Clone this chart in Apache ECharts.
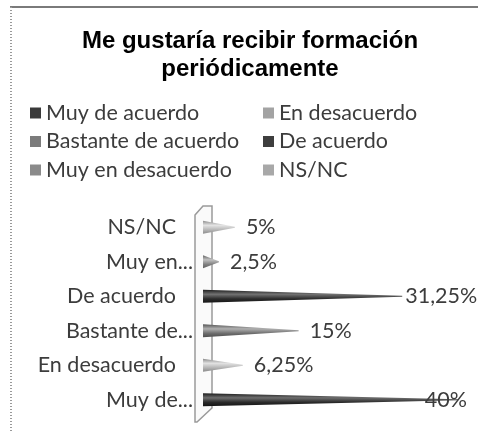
<!DOCTYPE html>
<html>
<head>
<meta charset="utf-8">
<script src="https://cdn.jsdelivr.net/npm/echarts@6/dist/echarts.min.js"></script>
<style>
html,body{margin:0;padding:0;background:#fff;}
#main{width:478px;height:432px;}
</style>
</head>
<body>
<div id="main"></div>
<script>
var categories = ['Muy de acuerdo', 'En desacuerdo', 'Bastante de acuerdo', 'De acuerdo', 'Muy en desacuerdo', 'NS/NC'];
var values = [40, 6.25, 15, 31.25, 2.5, 5];
var axisLabels = ['Muy de...', 'En desacuerdo', 'Bastante de...', 'De acuerdo', 'Muy en...', 'NS/NC'];
var legendColors = ['#3a3a3a', '#a3a3a3', '#7b7b7b', '#3e3e3e', '#8a8a8a', '#a8a8a8'];
var coneStops = [
    ['#1c1c1c', '#6e6e6e', '#2a2a2a', '#141414'],
    ['#8c8c8c', '#e2e2e2', '#b4b4b4', '#8a8a8a'],
    ['#555555', '#b0b0b0', '#6e6e6e', '#4e4e4e'],
    ['#1e1e1e', '#727272', '#2c2c2c', '#161616'],
    ['#666666', '#c0c0c0', '#808080', '#606060'],
    ['#8e8e8e', '#e4e4e4', '#b6b6b6', '#8c8c8c']
];

var fmt = function (v) {
    return String(v).replace('.', ',') + '%';
};

var maxVal = Math.max.apply(null, values);
var txtColor = '#3c3c3c';
var fontSize = 21.5;
var myChart = echarts.init(document.getElementById('main'));

var series = [];
categories.forEach(function (name, i) {
    var s = coneStops[i];
    var data = categories.map(function (c, j) {
        if (j !== i) return '-';
        var item = {value: values[i]};
        if (values[i] === maxVal) {
            // etiqueta encima de la punta, como en el original
            item.label = {position: 'insideRight', offset: [20, 0]};
        } else if (values[i] > maxVal * 0.75) {
            item.label = {distance: 3};
        }
        return item;
    });
    series.push({
        name: name,
        type: 'pictorialBar',
        symbol: 'path://M0,0 L100,47 L100,53 L0,100 Z',
        symbolSize: ['100%', 13],
        symbolPosition: 'start',
        barGap: '-100%',
        z: 5,
        itemStyle: {
            color: new echarts.graphic.LinearGradient(0, 0, 0, 1, [
                {offset: 0, color: s[0]},
                {offset: 0.35, color: s[1]},
                {offset: 0.7, color: s[2]},
                {offset: 1, color: s[3]}
            ])
        },
        label: {
            show: true,
            position: 'right',
            distance: 11,
            fontFamily: 'Lato',
            fontSize: fontSize,
            color: txtColor,
            formatter: function (p) { return fmt(p.value); }
        },
        data: data
    });
});

var legendItem = function (i) {
    return {name: categories[i], itemStyle: {color: legendColors[i]}};
};
var legendBase = {
    orient: 'vertical',
    top: 97,
    itemGap: 6.5,
    itemWidth: 11,
    itemHeight: 11,
    icon: 'rect',
    selectedMode: false,
    textStyle: {fontFamily: 'Lato', fontSize: fontSize, lineHeight: 22, color: txtColor}
};

var options = {
    backgroundColor: '#ffffff',
    animation: false,
    title: {
        text: 'Me gustaría recibir formación\nperiódicamente',
        left: 245,
        top: 22,
        textAlign: 'center',
        textStyle: {
            fontFamily: 'Liberation Sans',
            fontWeight: 'bold',
            fontSize: 24,
            lineHeight: 28,
            color: '#000'
        }
    },
    legend: [
        Object.assign({}, legendBase, {left: 25, data: [legendItem(0), legendItem(2), legendItem(4)]}),
        Object.assign({}, legendBase, {left: 258, data: [legendItem(1), legendItem(3), legendItem(5)]})
    ],
    grid: {left: 203, right: 20, top: 210, bottom: 15},
    xAxis: {
        type: 'value',
        min: 0,
        max: maxVal,
        show: false
    },
    yAxis: {
        type: 'category',
        data: axisLabels,
        axisLine: {show: false},
        axisTick: {show: false},
        axisLabel: {
            margin: 10,
            formatter: function (v) {
                return v.indexOf('...') >= 0 ? '{e|' + v + '}' : '{n|' + v + '}';
            },
            rich: {
                e: {fontFamily: 'Lato', fontSize: fontSize, color: txtColor},
                n: {fontFamily: 'Lato', fontSize: fontSize, color: txtColor, padding: [0, 17, 0, 0]}
            }
        }
    },
    graphic: [
        {
            type: 'polygon',
            z: 0,
            shape: {points: [[195, 215], [203, 206], [212, 206], [212, 408], [197, 422], [195, 422]]},
            style: {fill: '#fafafa', stroke: '#9a9a9a', lineWidth: 1.5}
        },
        {
            type: 'line',
            z: 0,
            shape: {x1: 10, y1: 7, x2: 478, y2: 7},
            style: {stroke: '#7a7a7a', lineWidth: 2}
        },
        {
            type: 'line',
            z: 0,
            shape: {x1: 11, y1: 7, x2: 11, y2: 432},
            style: {stroke: '#9a9a9a', lineWidth: 2, lineDash: [1, 2]}
        }
    ],
    series: series
};
myChart.setOption(options);
</script>
</body>
</html>
